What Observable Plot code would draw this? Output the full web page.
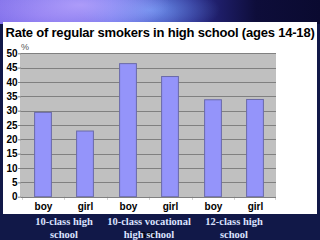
<!DOCTYPE html>
<html>
<head>
<meta charset="utf-8">
<script src="https://cdn.jsdelivr.net/npm/d3@7"></script>
<script src="https://cdn.jsdelivr.net/npm/@observablehq/plot@0.6"></script>
<style>
  html, body { margin: 0; padding: 0; }
  body {
    width: 320px; height: 240px; overflow: hidden; position: relative;
    background:
      radial-gradient(ellipse 90px 30px at 80px 5px, rgba(190,170,255,0.75), rgba(190,170,255,0) 100%),
      radial-gradient(ellipse 70px 25px at 150px 10px, rgba(120,170,255,0.7), rgba(120,170,255,0) 100%),
      radial-gradient(ellipse 140px 40px at 40px 15px, rgba(140,120,240,0.9), rgba(140,120,240,0) 100%),
      linear-gradient(90deg, #7d6fe6 0%, #5a66e0 35%, #2a2a8a 60%, #0e0d3a 80%, #0a0a30 100%);
    background-size: 320px 24px, 320px 24px, 320px 24px, 320px 24px;
    background-repeat: no-repeat;
    background-color: #111848;
    font-family: "Liberation Sans", Arial, sans-serif;
  }
  #panel {
    position: absolute; left: 3px; top: 22px; width: 314px; height: 192px;
    background: #ffffff;
  }
  /* grey plotting area behind the transparent SVG */
  #plotbg {
    position: absolute; left: 20px; top: 53.3px; width: 256px; height: 143.4px;
    background: #c0c0c0;
  }
  #title {
    position: absolute; left: 0; top: 25px; width: 320px; text-align: center;
    font: bold 13px "Liberation Sans", Arial, sans-serif; color: #000;
    letter-spacing: -0.2px; white-space: nowrap; line-height: 15px;
  }
  #unit {
    position: absolute; left: 21px; top: 42px; line-height: 10px;
    font: 9px "Liberation Sans", Arial, sans-serif; color: #555;
  }
  #chart { position: absolute; left: 0; top: 40px; }
</style>
</head>
<body>
<div id="panel"></div>
<div id="plotbg"></div>
<div id="title">Rate of regular smokers in high school (ages 14-18)</div>
<div id="unit">%</div>
<div id="chart"></div>
<script>
// School types, student sex, and the share of regular smokers (%)
const schools = ["10-class high\nschool", "10-class vocational\nhigh school", "12-class high\nschool"];
const sexes = ["boy", "girl"];
const boyRates = [29.4, 46.4, 33.8];
const girlRates = [22.9, 41.9, 33.9];
const yTicks = [0, 5, 10, 15, 20, 25, 30, 35, 40, 45, 50];

const rows = schools.flatMap((school, i) => [
  {school, sex: sexes[0], rate: boyRates[i]},
  {school, sex: sexes[1], rate: girlRates[i]}
]);
const lastRow = rows.filter((d, i) => i === rows.length - 1);

const chart = Plot.plot({
  width: 320,
  height: 200,
  marginLeft: 20,
  marginRight: 44,
  marginTop: 13.3,
  marginBottom: 43.3,
  style: {background: "transparent", fontFamily: "Liberation Sans, Arial, sans-serif"},
  fx: {domain: schools, padding: 0, axis: null},
  x: {domain: sexes, padding: 0, axis: null},
  y: {domain: [0, 50], ticks: yTicks, label: null},
  marks: [
    Plot.ruleY(yTicks, {stroke: "#808080", strokeWidth: 1, shapeRendering: "crispEdges"}),
    Plot.barY(rows, {
      fx: "school", x: "sex", y: "rate",
      insetLeft: 12.6, insetRight: 12.6,
      fill: "#9494fa", stroke: "#6a6aa8", strokeWidth: 1
    }),
    // small tick marks on the category boundaries below the baseline
    Plot.barY(rows, {fx: "school", x: "sex", y1: 0, y2: -1.1, insetRight: 41.6, fill: "#808080"}),
    Plot.barY(lastRow, {fx: "school", x: "sex", y1: 0, y2: -1.1, insetLeft: 41.6, fill: "#808080"}),
    Plot.axisX({
      anchor: "bottom", tickSize: 0, tickPadding: 6,
      fontSize: 10, fontWeight: "bold", fill: "#000"
    }),
    Plot.axisFx({
      anchor: "bottom", tickSize: 0, tickPadding: 19.5, fontSize: 10.5,
      fontWeight: "bold", fontFamily: "Liberation Serif, Times New Roman, serif",
      fill: "#dce2ff", lineHeight: 1.16, label: null
    }),
    Plot.axisY({
      ticks: yTicks, tickSize: 3, tickPadding: 1, stroke: "#808080",
      fontSize: 10, fontWeight: "bold", fill: "#000", label: null
    }),
    Plot.ruleY([0], {stroke: "#808080", shapeRendering: "crispEdges"})
  ]
});

document.getElementById("chart").appendChild(chart);
</script>
</body>
</html>
